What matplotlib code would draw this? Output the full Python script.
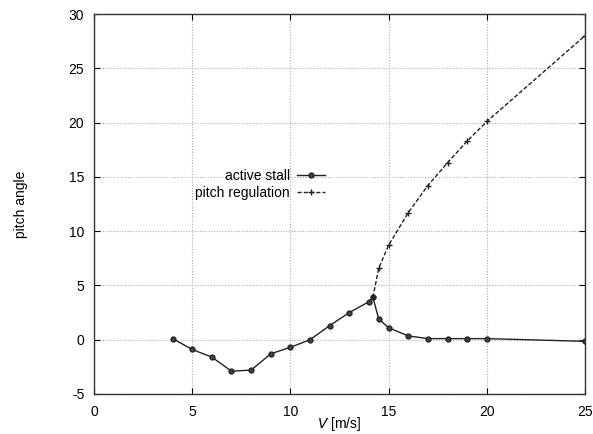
import matplotlib.pyplot as plt

plt.rcParams['font.family'] = ['Liberation Sans', 'DejaVu Sans']
plt.rcParams['axes.unicode_minus'] = False

# active stall
v_stall = [4, 5, 6, 7, 8, 9, 10, 11, 12, 13, 14, 14.2, 14.5, 15, 16, 17, 18, 19, 20, 25]
p_stall = [0.1, -0.9, -1.6, -2.9, -2.8, -1.3, -0.7, 0.0, 1.3, 2.5, 3.5, 3.9, 1.9, 1.1, 0.35, 0.1, 0.1, 0.1, 0.1, -0.15]

# pitch regulation
v_pitch = [14.2, 14.5, 15, 16, 17, 18, 19, 20, 25]
p_pitch = [3.9, 6.6, 8.7, 11.7, 14.2, 16.3, 18.3, 20.1, 28.0]

xticks = [0, 5, 10, 15, 20, 25]
yticks = [-5, 0, 5, 10, 15, 20, 25, 30]

fig = plt.figure(figsize=(5.93, 4.34), dpi=100)
ax = fig.add_axes([0.1585, 0.0922, 0.828, 0.8755])

ax.plot(v_stall, p_stall, color='#222222', lw=1.0, marker='o', markersize=3.5,
        markerfacecolor='#444444', markeredgecolor='#222222', label='active stall')
ax.plot(v_pitch, p_pitch, color='#222222', lw=1.0, ls=(0, (3, 1.5)), marker='+',
        markersize=5, markeredgewidth=1.0, label='pitch regulation')

ax.set_xlim(0, 25)
ax.set_ylim(-5, 30)
ax.set_xticks(xticks)
ax.set_yticks(yticks)
ax.grid(True, color='#aaaaaa', ls=(0, (1, 1.5)), lw=0.8)
ax.tick_params(direction='in', top=True, right=True, labelsize=10, length=4, width=0.8)
ax.tick_params(axis='x', pad=8)
ax.tick_params(axis='y', pad=7)
for s in ax.spines.values():
    s.set_color('#333333')
    s.set_linewidth(1.0)

ax.set_xlabel(r'$V$ [m/s]', fontsize=10, labelpad=-3)
ax.set_ylabel('pitch angle', fontsize=10, labelpad=29)

ax.legend(loc='center right', bbox_to_anchor=(12.1, 14.3), bbox_transform=ax.transData,
          frameon=False, markerfirst=False, fontsize=10, handlelength=2.0,
          labelspacing=0.2, borderpad=0, handletextpad=0.5)

fig.savefig('out.png', dpi=100)
